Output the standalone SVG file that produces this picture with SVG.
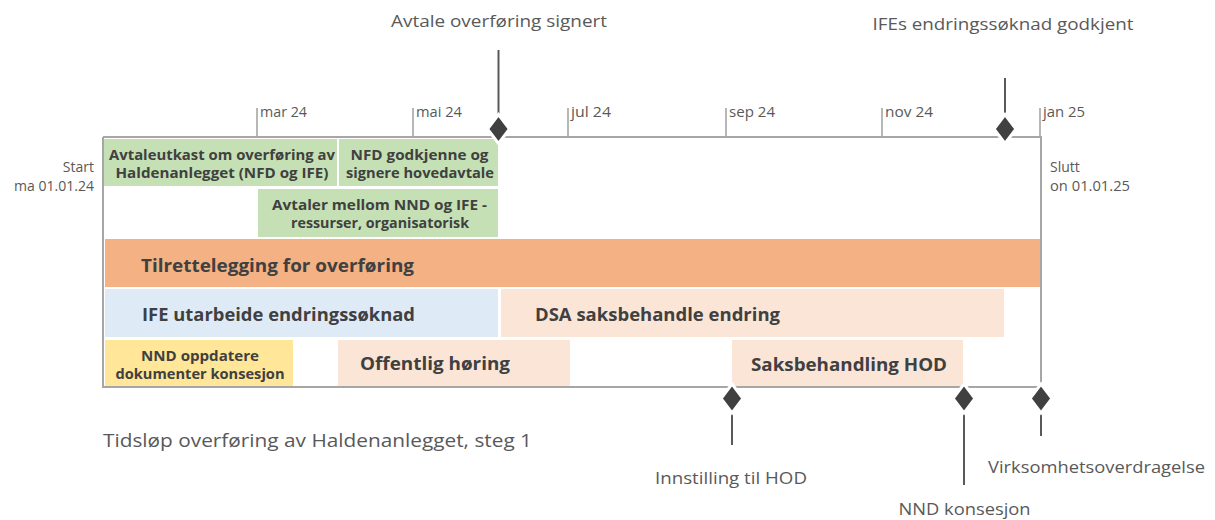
<svg xmlns="http://www.w3.org/2000/svg" width="1215" height="520" viewBox="0 0 1215 520">
<style>
text{font-family:"Open Sans","Noto Sans","Liberation Sans",sans-serif}
.lbl{fill:#595959;font-size:17px}
.sm{fill:#595959;font-size:14px}
.bt{fill:#404040;font-weight:bold;font-size:17px}
.st{fill:#404040;font-weight:bold;font-size:14px}
.axis{stroke:#A6A6A6;stroke-width:2;fill:none}
.tick{stroke:#A6A6A6;stroke-width:1.6;fill:none}
.stem{stroke:#595959;stroke-width:2;fill:none}
.dia{fill:#404040;stroke:#fff;stroke-width:3}
</style>
<defs>
<path id="d" d="M0,-14.5 L11,0 L0,14.5 L-11,0 Z"/>
</defs>
<rect width="1215" height="520" fill="#fff"/>

<g id="connectors">
<path class="axis" d="M103,137 H1041 V398 M103,137 V387 H1041"/>
<path class="tick" d="M257,108 V137 M413,108 V137 M568,108 V137 M726,108 V137 M882,108 V137 M1040,108 V137"/>
</g>

<g id="month-labels">
<text class="sm" x="260" y="117" textLength="47" lengthAdjust="spacingAndGlyphs">mar 24</text>
<text class="sm" x="416" y="117" textLength="46" lengthAdjust="spacingAndGlyphs">mai 24</text>
<text class="sm" x="571" y="117" textLength="40" lengthAdjust="spacingAndGlyphs">jul 24</text>
<text class="sm" x="729" y="117" textLength="46" lengthAdjust="spacingAndGlyphs">sep 24</text>
<text class="sm" x="885" y="117" textLength="48" lengthAdjust="spacingAndGlyphs">nov 24</text>
<text class="sm" x="1043" y="117" textLength="42" lengthAdjust="spacingAndGlyphs">jan 25</text>
</g>

<g id="start">
<text class="sm" x="94" y="172" text-anchor="end">Start</text>
<text class="sm" x="94" y="191" text-anchor="end" textLength="80" lengthAdjust="spacingAndGlyphs">ma 01.01.24</text>
</g>
<g id="slutt">
<text class="sm" x="1050" y="172">Slutt</text>
<text class="sm" x="1050" y="191" textLength="80" lengthAdjust="spacingAndGlyphs">on 01.01.25</text>
</g>

<g id="task-avtaleutkast">
<rect x="104" y="139" width="233" height="47" fill="#C5E0B4"/>
<text class="st" x="222" y="160" text-anchor="middle" textLength="226" lengthAdjust="spacingAndGlyphs">Avtaleutkast om overføring av</text>
<text class="st" x="222" y="178" text-anchor="middle" textLength="213" lengthAdjust="spacingAndGlyphs">Haldenanlegget (NFD og IFE)</text>
</g>
<g id="task-nfd">
<rect x="339" y="139" width="159" height="47" fill="#C5E0B4"/>
<text class="st" x="419.5" y="160" text-anchor="middle" textLength="138" lengthAdjust="spacingAndGlyphs">NFD godkjenne og</text>
<text class="st" x="420" y="178" text-anchor="middle" textLength="148" lengthAdjust="spacingAndGlyphs">signere hovedavtale</text>
</g>
<g id="task-avtaler">
<rect x="258" y="189" width="240" height="48" fill="#C5E0B4"/>
<text class="st" x="379.5" y="210" text-anchor="middle" textLength="215" lengthAdjust="spacingAndGlyphs">Avtaler mellom NND og IFE -</text>
<text class="st" x="380" y="227.5" text-anchor="middle" textLength="178" lengthAdjust="spacingAndGlyphs">ressurser, organisatorisk</text>
</g>
<g id="task-tilrettelegging">
<rect x="105" y="239" width="935" height="48" fill="#F4B183"/>
<text class="bt" x="141" y="272" textLength="273" lengthAdjust="spacingAndGlyphs">Tilrettelegging for overføring</text>
</g>
<g id="task-ife">
<rect x="105" y="289" width="393" height="48" fill="#DEEBF7"/>
<text class="bt" x="142" y="321" textLength="273" lengthAdjust="spacingAndGlyphs">IFE utarbeide endringssøknad</text>
</g>
<g id="task-dsa">
<rect x="501" y="289" width="503" height="48" fill="#FBE5D6"/>
<text class="bt" x="535" y="321" textLength="245" lengthAdjust="spacingAndGlyphs">DSA saksbehandle endring</text>
</g>
<g id="task-nnd">
<rect x="105" y="340" width="188" height="46" fill="#FFE699"/>
<text class="st" x="200" y="361" text-anchor="middle" textLength="118" lengthAdjust="spacingAndGlyphs">NND oppdatere</text>
<text class="st" x="200" y="378.5" text-anchor="middle" textLength="169" lengthAdjust="spacingAndGlyphs">dokumenter konsesjon</text>
</g>
<g id="task-horing">
<rect x="338" y="340" width="232" height="46" fill="#FBE5D6"/>
<text class="bt" x="360" y="370" textLength="150" lengthAdjust="spacingAndGlyphs">Offentlig høring</text>
</g>
<g id="task-hod">
<rect x="732" y="340" width="231" height="46" fill="#FBE5D6"/>
<text class="bt" x="751" y="371" textLength="196" lengthAdjust="spacingAndGlyphs">Saksbehandling HOD</text>
</g>

<g id="milestone-signert">
<path class="stem" d="M498.5,50 V129"/>
<use href="#d" class="dia" x="498.5" y="129"/>
<text class="lbl" x="499" y="27" text-anchor="middle" textLength="216" lengthAdjust="spacingAndGlyphs">Avtale overføring signert</text>
</g>
<g id="milestone-godkjent">
<path class="stem" d="M1005,78 V129"/>
<use href="#d" class="dia" x="1005" y="129"/>
<text class="lbl" x="1003" y="30" text-anchor="middle" textLength="261" lengthAdjust="spacingAndGlyphs">IFEs endringssøknad godkjent</text>
</g>
<g id="milestone-innstilling">
<path class="stem" d="M732,398 V445"/>
<use href="#d" class="dia" x="732" y="398.5"/>
<text class="lbl" x="731" y="484" text-anchor="middle" textLength="152" lengthAdjust="spacingAndGlyphs">Innstilling til HOD</text>
</g>
<g id="milestone-konsesjon">
<path class="stem" d="M964,398 V485"/>
<use href="#d" class="dia" x="964" y="398.5"/>
<text class="lbl" x="964.5" y="515" text-anchor="middle" textLength="132" lengthAdjust="spacingAndGlyphs">NND konsesjon</text>
</g>
<g id="milestone-overdragelse">
<path class="stem" d="M1041,398 V436"/>
<use href="#d" class="dia" x="1041" y="398.5"/>
<text class="lbl" x="988" y="473" textLength="217" lengthAdjust="spacingAndGlyphs">Virksomhetsoverdragelse</text>
</g>

<g id="title">
<text x="103" y="447" fill="#595959" font-size="19" textLength="429" lengthAdjust="spacingAndGlyphs">Tidsløp overføring av Haldenanlegget, steg 1</text>
</g>
</svg>
